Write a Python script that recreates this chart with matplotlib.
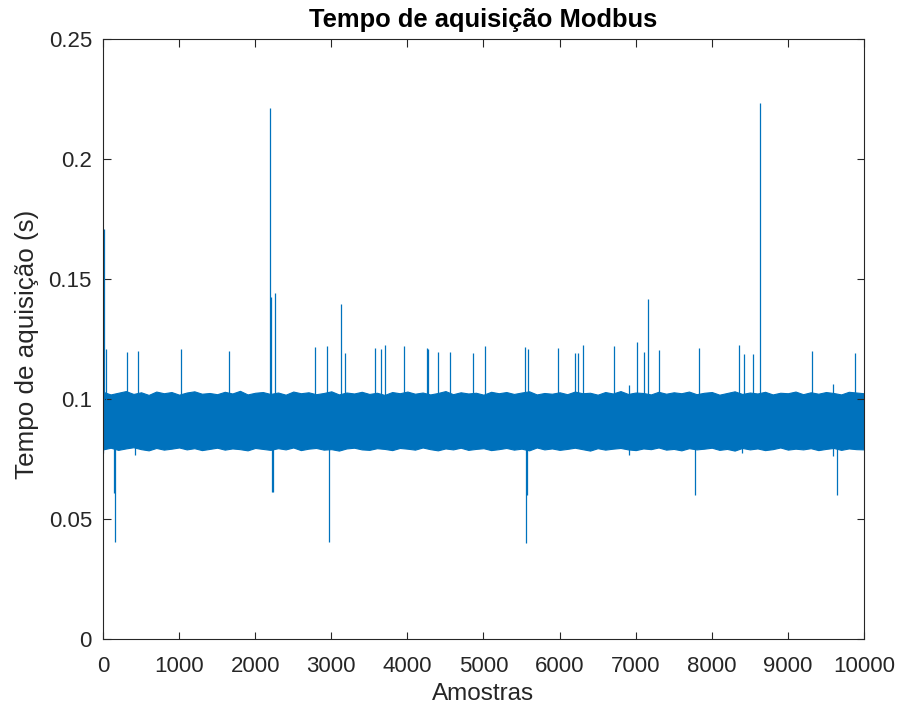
import numpy as np
import matplotlib
matplotlib.use("Agg")
import matplotlib.pyplot as plt

plt.rcParams['font.family'] = ['Liberation Sans', 'DejaVu Sans']

LINE = '#0072BD'
AX = '#262626'

# Envelope of the dense acquisition-time band, sampled every 100 samples
band_x = list(range(0, 10001, 100))
band_top = [
    0.1030, 0.1019, 0.1026, 0.1033, 0.1021, 0.1028, 0.1017, 0.1031, 0.1024, 0.1029,
    0.1018, 0.1027, 0.1032, 0.1022, 0.1025, 0.1020, 0.1030, 0.1023, 0.1034, 0.1019,
    0.1026, 0.1029, 0.1021, 0.1027, 0.1018, 0.1031, 0.1024, 0.1028, 0.1020, 0.1025,
    0.1032, 0.1019, 0.1027, 0.1023, 0.1030, 0.1021, 0.1026, 0.1017, 0.1029, 0.1024,
    0.1031, 0.1022, 0.1027, 0.1019, 0.1025, 0.1033, 0.1020, 0.1028, 0.1023, 0.1026,
    0.1018, 0.1030, 0.1024, 0.1029, 0.1021, 0.1027, 0.1032, 0.1019, 0.1025, 0.1022,
    0.1028, 0.1020, 0.1031, 0.1024, 0.1026, 0.1018, 0.1029, 0.1023, 0.1033, 0.1021,
    0.1027, 0.1025, 0.1019, 0.1030, 0.1022, 0.1028, 0.1024, 0.1031, 0.1020, 0.1026,
    0.1029, 0.1018, 0.1025, 0.1032, 0.1021, 0.1027, 0.1023, 0.1030, 0.1019, 0.1026,
    0.1024, 0.1031, 0.1020, 0.1028, 0.1022, 0.1029, 0.1025, 0.1019, 0.1030, 0.1027,
    0.1024]
band_bottom = [
    0.0790, 0.0797, 0.0788, 0.0794, 0.0799, 0.0791, 0.0786, 0.0796, 0.0789, 0.0793,
    0.0798, 0.0790, 0.0795, 0.0787, 0.0792, 0.0797, 0.0789, 0.0794, 0.0791, 0.0786,
    0.0796, 0.0792, 0.0788, 0.0795, 0.0790, 0.0798, 0.0787, 0.0793, 0.0796, 0.0789,
    0.0791, 0.0785, 0.0794, 0.0797, 0.0790, 0.0788, 0.0795, 0.0792, 0.0787, 0.0796,
    0.0793, 0.0789, 0.0798, 0.0791, 0.0786, 0.0794, 0.0790, 0.0797, 0.0788, 0.0792,
    0.0795, 0.0787, 0.0791, 0.0796, 0.0789, 0.0793, 0.0786, 0.0798, 0.0790, 0.0794,
    0.0788, 0.0792, 0.0797, 0.0791, 0.0785, 0.0795, 0.0789, 0.0793, 0.0796, 0.0790,
    0.0787, 0.0794, 0.0791, 0.0798, 0.0789, 0.0792, 0.0786, 0.0795, 0.0790, 0.0793,
    0.0797, 0.0788, 0.0792, 0.0785, 0.0796, 0.0790, 0.0794, 0.0787, 0.0791, 0.0798,
    0.0789, 0.0793, 0.0790, 0.0795, 0.0787, 0.0792, 0.0796, 0.0788, 0.0794, 0.0791,
    0.0790]
band_center = 0.090

# Isolated slow acquisitions (above the band)
high_samples = [10, 40, 315, 456, 1029, 1656, 2199, 2208, 2260, 2782, 2943, 3127, 3180,
                3574, 3657, 3706, 3955, 4253, 4266, 4398, 4560, 4862, 5020, 5545, 5581,
                5979, 6207, 6238, 6303, 6715, 6916, 7013, 7109, 7166, 7311, 7832, 8353,
                8427, 8541, 8637, 9312, 9592, 9882]
high_values = [0.171, 0.121, 0.1197, 0.120, 0.1207, 0.120, 0.2214, 0.1426, 0.144, 0.1215,
               0.1222, 0.1396, 0.119, 0.1214, 0.1208, 0.1225, 0.1222, 0.1214, 0.121, 0.1195,
               0.1195, 0.1193, 0.1221, 0.1215, 0.121, 0.1212, 0.1193, 0.1193, 0.1224, 0.1221,
               0.1057, 0.1236, 0.1195, 0.1415, 0.1204, 0.1211, 0.1226, 0.1189, 0.1189, 0.2235,
               0.1199, 0.1062, 0.119]

# Isolated fast acquisitions (below the band)
low_samples = [5, 140, 160, 425, 2215, 2240, 2965, 5558, 5570, 6916, 7784, 8392, 9592, 9649]
low_values = [0.0775, 0.061, 0.0405, 0.0767, 0.0614, 0.0614, 0.0405, 0.0399, 0.060,
              0.0767, 0.060, 0.0775, 0.0762, 0.060]

x_ticks = [0, 1000, 2000, 3000, 4000, 5000, 6000, 7000, 8000, 9000, 10000]
y_ticks = [0, 0.05, 0.1, 0.15, 0.2, 0.25]
y_ticklabels = ['0', '0.05', '0.1', '0.15', '0.2', '0.25']

fig = plt.figure(figsize=(9.02, 7.13), dpi=100)
ax = fig.add_axes([103 / 902, 74 / 713, 761 / 902, 600 / 713])

ax.fill_between(band_x, band_top, band_bottom, color=LINE, linewidth=0.8,
                edgecolor=LINE)
ax.vlines(high_samples, band_center, high_values, color=LINE, linewidth=0.9)
ax.vlines(low_samples, low_values, band_center, color=LINE, linewidth=0.9)

ax.set_xlim(0, 10000)
ax.set_ylim(0, 0.25)
ax.set_xticks(x_ticks)
ax.set_xticklabels([str(t) for t in x_ticks])
ax.set_yticks(y_ticks)
ax.set_yticklabels(y_ticklabels)

ax.tick_params(direction='in', length=5.4, width=0.8, colors=AX, labelsize=16,
               top=True, right=True)
ax.tick_params(axis='x', pad=12.5)
ax.tick_params(axis='y', pad=8)
for sp in ax.spines.values():
    sp.set_color(AX)
    sp.set_linewidth(0.8)

ax.set_title('Tempo de aquisição Modbus', fontsize=18.4, fontweight='bold',
             color='black', pad=8.5)
ax.set_xlabel('Amostras', fontsize=17.5, color=AX)
ax.set_ylabel('Tempo de aquisição (s)', fontsize=18.7, color=AX)
ax.xaxis.set_label_coords(0.5, -0.074)
ax.yaxis.set_label_coords(-0.0841, 0.4917)

fig.savefig('out.png', dpi=100)
